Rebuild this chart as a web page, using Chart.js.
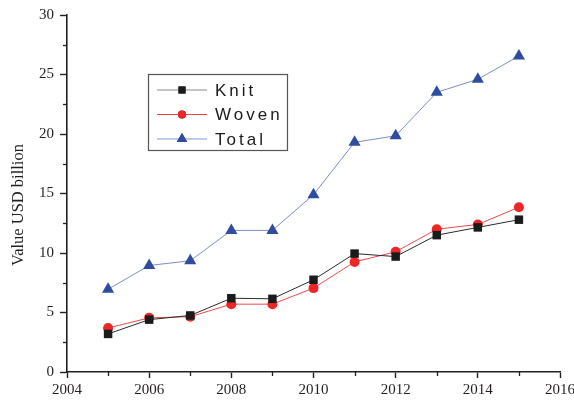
<!DOCTYPE html>
<html>
<head>
<meta charset="utf-8">
<script src="https://cdn.jsdelivr.net/npm/chart.js@4/dist/chart.umd.min.js"></script>
<style>
  html, body { margin: 0; padding: 0; background: #fff; }
  #wrap { width: 574px; height: 401px; }
</style>
</head>
<body>
<div id="wrap"><canvas id="c" width="574" height="401"></canvas></div>
<script>
// Export value by year, USD billion
const years = [2005, 2006, 2007, 2008, 2009, 2010, 2011, 2012, 2013, 2014, 2015];
const knit  = [3.2, 4.4, 4.75, 6.2, 6.15, 7.75, 9.95, 9.7, 11.5, 12.15, 12.8];
const woven = [3.7, 4.55, 4.65, 5.7, 5.7, 7.05, 9.25, 10.1, 12.0, 12.4, 13.85];
const total = [6.95, 8.95, 9.35, 11.9, 11.9, 14.9, 19.3, 19.85, 23.5, 24.6, 26.55];
const seriesNames = ['Knit', 'Woven', 'Total'];
const xTicks = [2004, 2006, 2008, 2010, 2012, 2014, 2016];
const yTicks = [0, 5, 10, 15, 20, 25, 30];
const yTitle = 'Value USD billion';

const AXIS = '#231f20';
const serif = '"Liberation Serif", "DejaVu Serif", serif';

const toPoints = (vals) => years.map((y, i) => ({ x: y, y: vals[i] }));

// Half-step tick marks between the labelled ticks
const minorTicks = {
  id: 'minorTicks',
  afterDraw(chart) {
    const { ctx, scales: { x, y } } = chart;
    ctx.save();
    ctx.strokeStyle = AXIS;
    ctx.lineWidth = 1.3;
    for (let i = 0; i < xTicks.length - 1; i++) {
      const px = Math.round(x.getPixelForValue((xTicks[i] + xTicks[i + 1]) / 2)) + 0.5;
      ctx.beginPath();
      ctx.moveTo(px, y.bottom);
      ctx.lineTo(px, y.bottom + 4);
      ctx.stroke();
    }
    for (let i = 0; i < yTicks.length - 1; i++) {
      const py = Math.round(y.getPixelForValue((yTicks[i] + yTicks[i + 1]) / 2)) + 0.5;
      ctx.beginPath();
      ctx.moveTo(x.left - 4, py);
      ctx.lineTo(x.left, py);
      ctx.stroke();
    }
    ctx.restore();
  }
};

// Vertical axis title
const axisTitle = {
  id: 'axisTitle',
  afterDraw(chart) {
    const { ctx } = chart;
    ctx.save();
    ctx.translate(19, 205);
    ctx.rotate(-Math.PI / 2);
    ctx.fillStyle = AXIS;
    ctx.font = '16.5px ' + serif;
    ctx.textAlign = 'center';
    ctx.textBaseline = 'middle';
    ctx.fillText(yTitle, 0, 0);
    ctx.restore();
  }
};

// Boxed legend inside the plot area
const boxLegend = {
  id: 'boxLegend',
  afterDraw(chart) {
    const { ctx } = chart;
    const box = { x: 148.5, y: 74.5, w: 139, h: 76 };
    const rowY = [90, 114.5, 139];
    const lineColors = ['#8a8a8a', '#f04040', '#8496d4'];
    ctx.save();
    ctx.strokeStyle = '#555';
    ctx.lineWidth = 1.2;
    ctx.strokeRect(box.x, box.y, box.w, box.h);
    chart.data.datasets.forEach((ds, i) => {
      const cy = rowY[i];
      ctx.strokeStyle = lineColors[i];
      ctx.lineWidth = 1.2;
      ctx.beginPath();
      ctx.moveTo(157, cy);
      ctx.lineTo(207, cy);
      ctx.stroke();
      Chart.helpers.drawPoint(ctx, {
        pointStyle: ds.pointStyle,
        radius: ds.pointStyle === 'triangle' ? 6 : (ds.pointStyle === 'rect' ? 5 : 4),
        borderWidth: 0,
        rotation: 0
      }, 182, cy);
      ctx.fillStyle = ds.pointBackgroundColor;
      ctx.fill();
      ctx.fillStyle = '#1a1a1a';
      ctx.font = '17px "Liberation Sans", Arial, sans-serif';
      ctx.letterSpacing = '3px';
      ctx.textAlign = 'left';
      ctx.textBaseline = 'middle';
      ctx.fillText(ds.label, 215, cy + 1);
    });
    ctx.restore();
  }
};

new Chart(document.getElementById('c'), {
  type: 'line',
  data: {
    datasets: [
      {
        label: seriesNames[0],
        data: toPoints(knit),
        borderColor: '#2a2a2a',
        borderWidth: 1,
        pointStyle: 'rect',
        pointRadius: 6,
        pointBackgroundColor: '#1b1b1b',
        pointBorderWidth: 0
      },
      {
        label: seriesNames[1],
        data: toPoints(woven),
        borderColor: '#f04a4a',
        borderWidth: 1,
        pointStyle: 'circle',
        pointRadius: 5,
        pointBackgroundColor: '#ee2626',
        pointBorderWidth: 0
      },
      {
        label: seriesNames[2],
        data: toPoints(total),
        borderColor: '#7b8cc9',
        borderWidth: 1,
        pointStyle: 'triangle',
        pointRadius: 7,
        pointBackgroundColor: '#2f4c9e',
        pointBorderWidth: 0
      }
    ]
  },
  options: {
    responsive: false,
    animation: false,
    devicePixelRatio: 1,
    clip: false,
    layout: { padding: { top: 15, right: 0, left: 0, bottom: 0 } },
    plugins: {
      legend: { display: false },
      tooltip: { enabled: false }
    },
    elements: { line: { tension: 0 } },
    scales: {
      x: {
        type: 'linear',
        min: xTicks[0],
        max: xTicks[xTicks.length - 1],
        afterFit: (s) => { s.height = 29; s.paddingRight = 14; s.paddingLeft = 0; },
        afterBuildTicks: (s) => { s.ticks = xTicks.map(v => ({ value: v })); },
        ticks: {
          callback: (v) => String(v),
          color: AXIS,
          font: { family: serif, size: 15 },
          padding: 3,
          maxRotation: 0
        },
        grid: { drawOnChartArea: false, tickLength: 6, tickColor: AXIS, tickWidth: 1.4 },
        border: { color: AXIS, width: 1.6 }
      },
      y: {
        type: 'linear',
        min: yTicks[0],
        max: yTicks[yTicks.length - 1],
        afterFit: (s) => { s.width = 67; },
        afterBuildTicks: (s) => { s.ticks = yTicks.map(v => ({ value: v })); },
        ticks: {
          callback: (v) => String(v),
          color: AXIS,
          font: { family: serif, size: 15 },
          padding: 6
        },
        grid: { drawOnChartArea: false, tickLength: 7, tickColor: AXIS, tickWidth: 1.4 },
        border: { color: AXIS, width: 1.6 }
      }
    }
  },
  plugins: [minorTicks, axisTitle, boxLegend]
});
</script>
</body>
</html>
